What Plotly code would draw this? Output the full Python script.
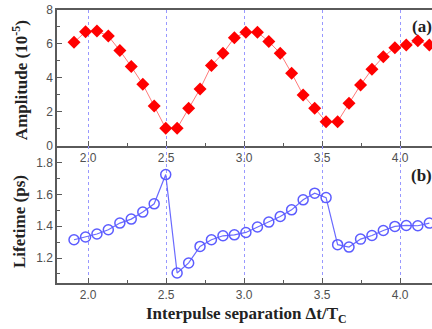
import plotly.graph_objects as go

# Interpulse separation (Δt/T_C)
sep = [1.909, 1.983, 2.056, 2.129, 2.203, 2.276, 2.350, 2.423, 2.497, 2.570,
       2.644, 2.717, 2.790, 2.864, 2.937, 3.011, 3.085, 3.158, 3.231, 3.304,
       3.378, 3.452, 3.525, 3.599, 3.672, 3.746, 3.819, 3.892, 3.966, 4.039,
       4.113, 4.187]

# (a) Amplitude (10^-5)
amplitude = [6.10, 6.72, 6.76, 6.47, 5.61, 4.67, 3.63, 2.35, 1.04, 1.04,
             2.22, 3.35, 4.73, 5.45, 6.37, 6.69, 6.69, 6.14, 5.45, 4.28,
             3.00, 2.22, 1.43, 1.43, 2.51, 3.59, 4.51, 5.25, 5.78, 5.94,
             6.19, 5.94]

# (b) Lifetime (ps)
lifetime = [1.315, 1.332, 1.351, 1.378, 1.420, 1.445, 1.489, 1.541, 1.725, 1.106,
            1.169, 1.273, 1.315, 1.340, 1.346, 1.361, 1.395, 1.426, 1.461, 1.503,
            1.566, 1.608, 1.580, 1.284, 1.269, 1.319, 1.342, 1.373, 1.399, 1.405,
            1.403, 1.420]

amp_ticks = [0, 2, 4, 6, 8]
life_ticks = [1.2, 1.4, 1.6, 1.8]

fig = go.Figure()
fig.add_trace(go.Scatter(
    x=sep, y=amplitude, mode="lines+markers", xaxis="x", yaxis="y",
    line=dict(color="#ff7a7a", width=1),
    marker=dict(symbol="diamond", size=10, color="#ff0000"),
    showlegend=False))
fig.add_trace(go.Scatter(
    x=sep, y=lifetime, mode="lines+markers", xaxis="x2", yaxis="y2",
    line=dict(color="#6a6aff", width=1.2),
    marker=dict(symbol="circle-open", size=10, color="#5c5cff", line=dict(width=1.5)),
    showlegend=False))

tickfont = dict(family="Liberation Sans, Arial", size=12, color="#505050")
axline = dict(showline=True, linecolor="#5a5a5a", linewidth=1.5)
xcommon = dict(range=[1.8, 4.204], tick0=2.0, dtick=0.5, tickformat=".1f",
               showgrid=True, gridcolor="#9898ff", griddash="dot", gridwidth=1,
               ticks="inside", ticklen=5, tickcolor="#5a5a5a",
               minor=dict(dtick=0.25, ticks="inside", ticklen=3, tickcolor="#5a5a5a", showgrid=False),
               tickfont=tickfont, zeroline=False, **axline)
ycommon = dict(showgrid=False, zeroline=False, ticks="inside", ticklen=5,
               tickcolor="#5a5a5a", tickfont=tickfont, **axline)

fig.update_layout(
    width=432, height=329,
    margin=dict(l=57, r=0, t=10, b=46),
    plot_bgcolor="white", paper_bgcolor="white",
    xaxis=dict(domain=[0, 1], anchor="y", mirror=True, **xcommon),
    yaxis=dict(domain=[0.502, 1], range=[0, 8], tickvals=amp_ticks,
               minor=dict(dtick=1, ticks="inside", ticklen=3, tickcolor="#5a5a5a"),
               **ycommon),
    xaxis2=dict(domain=[0, 1], anchor="y2", matches="x", **xcommon),
    yaxis2=dict(domain=[0, 0.502], range=[1.043, 1.905], tickvals=life_ticks,
                tickformat=".1f",
                minor=dict(tick0=1.1, dtick=0.2, ticks="inside", ticklen=3, tickcolor="#5a5a5a"),
                **ycommon),
)

serif = "Liberation Serif, Times New Roman"
tfont = dict(family=serif, size=17, color="#222")
common_ann = dict(xref="paper", yref="paper", showarrow=False,
                  xanchor="center", yanchor="middle", font=tfont)
ann = [
    dict(text="<b>(a)</b>", x=0.9725, y=0.939, **common_ann),
    dict(text="<b>(b)</b>", x=0.9725, y=0.393, **common_ann),
    dict(text="<b>Amplitude (10<sup>-5</sup>)</b>", x=-0.098, y=0.744, textangle=-90, **common_ann),
    dict(text="<b>Lifetime (ps)</b>", x=-0.098, y=0.224, textangle=-90, **common_ann),
    dict(text="<b>Interpulse separation \u0394t/T<sub>C</sub></b>", x=0.505, y=-0.117, **common_ann),
]
fig.update_layout(annotations=ann)

fig.write_html("out.html", config={"displayModeBar": False},
               post_script="document.body.style.margin='0';")
